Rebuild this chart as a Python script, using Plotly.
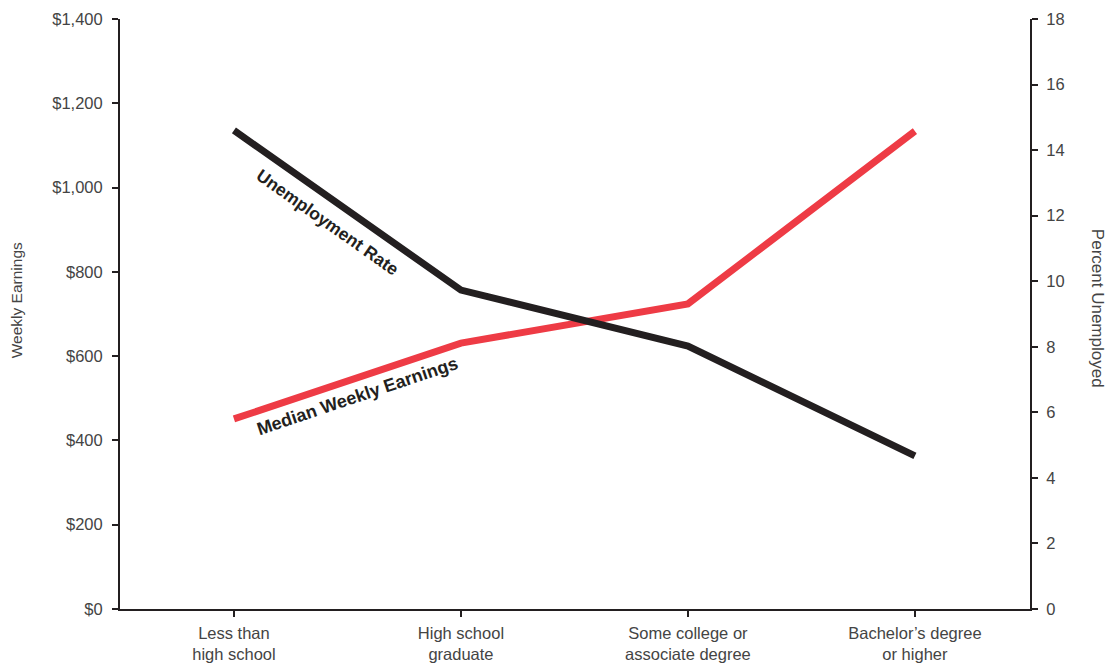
import plotly.graph_objects as go

categories = ["Less than<br>high school", "High school<br>graduate",
              "Some college or<br>associate degree", "Bachelor’s degree<br>or higher"]
earnings = [451, 631, 724, 1134]
unemployment = [14.6, 9.73, 8.02, 4.67]
left_ticks = [0, 200, 400, 600, 800, 1000, 1200, 1400]
left_labels = ["$0", "$200", "$400", "$600", "$800", "$1,000", "$1,200", "$1,400"]
right_ticks = [0, 2, 4, 6, 8, 10, 12, 14, 16, 18]

xpos = list(range(len(categories)))
RED = "#ee3b45"
BLACK = "#231f20"
TXT = "#444444"
FONT = "Liberation Sans"

fig = go.Figure()
fig.add_trace(go.Scatter(x=xpos, y=earnings, mode="lines",
                         line=dict(color=RED, width=7), yaxis="y", showlegend=False))
fig.add_trace(go.Scatter(x=xpos, y=unemployment, mode="lines",
                         line=dict(color=BLACK, width=7), yaxis="y2", showlegend=False))

axis_common = dict(showgrid=False, zeroline=False, showline=True, linecolor=BLACK,
                   linewidth=2, ticks="outside", ticklen=6, tickwidth=1.5, tickcolor=BLACK,
                   automargin=False,
                   tickfont=dict(family=FONT, size=16.5, color=TXT))

fig.update_layout(
    width=1107, height=659,
    margin=dict(l=112, r=85, t=11, b=58),
    plot_bgcolor="white", paper_bgcolor="white",
    xaxis=dict(range=[-0.502, 3.507], tickvals=xpos, ticktext=categories,
               ticklabelstandoff=2, **axis_common),
    yaxis=dict(range=[0, 1400], tickvals=left_ticks, ticktext=left_labels,
               ticklabelstandoff=6, **axis_common),
    yaxis2=dict(range=[0, 18], tickvals=right_ticks, overlaying="y", side="right",
                ticklabelstandoff=5, **axis_common),
    annotations=[
        dict(text="Weekly Earnings", xref="paper", yref="paper", x=-0.1134, y=0.523,
             textangle=-90, showarrow=False,
             font=dict(family=FONT, size=15.5, color=TXT), xanchor="center", yanchor="middle"),
        dict(text="Percent Unemployed", xref="paper", yref="paper", x=1.075, y=0.51,
             textangle=90, showarrow=False,
             font=dict(family=FONT, size=17, color=TXT), xanchor="center", yanchor="middle"),
        dict(text="<b>Unemployment Rate</b>", xref="x", yref="y", x=0.41, y=918,
             textangle=35.3, showarrow=False,
             font=dict(family=FONT, size=17.5, color=BLACK)),
        dict(text="<b>Median Weekly Earnings</b>", xref="x", yref="y", x=0.546, y=505,
             textangle=-18.6, showarrow=False,
             font=dict(family=FONT, size=18, color=BLACK)),
    ],
)

fig.write_html("out.html")
